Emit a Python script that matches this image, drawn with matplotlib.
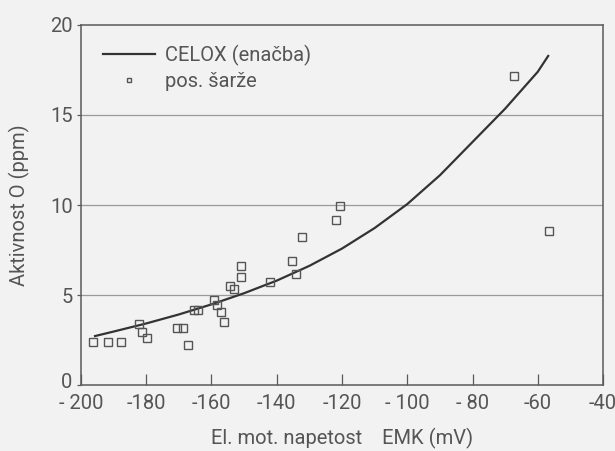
import matplotlib
matplotlib.use("Agg")
import matplotlib.pyplot as plt
import matplotlib.transforms as mtransforms

# ── Podatki (odčitani s slike) ───────────────────────────────────────────────
# CELOX krivulja (enačba) - točke odčitane s slike
celox_emk = [-195.7, -190, -180, -170, -160, -150, -140, -130, -120,
             -110, -100, -90, -80, -70, -60, -56.8]
celox_o   = [2.72, 2.97, 3.42, 3.92, 4.48, 5.10, 5.80, 6.62, 7.58,
             8.72, 10.05, 11.65, 13.5, 15.35, 17.4, 18.28]

# posamezne šarže
sarze_emk = [-196.4, -191.6, -187.7, -182.1, -181.4, -179.9, -170.7, -168.8,
             -167.1, -165.4, -164.0, -159.1, -158.4, -157.1, -156.2, -154.3,
             -153.1, -151.0, -151.0, -142.1, -135.2, -134.1, -132.2, -121.8,
             -120.6, -67.2, -56.5]
sarze_o   = [2.41, 2.41, 2.41, 3.37, 2.96, 2.63, 3.18, 3.18,
             2.22, 4.17, 4.17, 4.72, 4.44, 4.07, 3.52, 5.50,
             5.32, 6.02, 6.61, 5.71, 6.91, 6.17, 8.24, 9.17,
             9.94, 17.17, 8.56]

x_ticks  = [-200, -180, -160, -140, -120, -100, -80, -60, -40]
x_labels = ["- 200", "-180", "-160", "-140", "-120", "- 100", "- 80", "-60", "-40"]
y_ticks  = [0, 5, 10, 15, 20]

BG  = "#f2f2f2"
INK = "#555555"
FS  = 14.5

plt.rcParams["font.family"] = ["Roboto", "DejaVu Sans"]

fig = plt.figure(figsize=(6.15, 4.51), dpi=100, facecolor=BG)
ax = fig.add_axes([0.1317, 0.1463, 0.8488, 0.7983], facecolor=BG)

for yv in y_ticks[1:-1]:
    ax.axhline(yv, color="#9a9a9a", lw=0.9, zorder=1)

ax.plot(celox_emk, celox_o, color="#333333", lw=1.6, label="CELOX (enačba)", zorder=3)
ax.plot(sarze_emk, sarze_o, ls="none", marker="s", ms=6, mfc="none",
        mec="#555555", mew=1.0, label="pos. šarže", zorder=4)

ax.set_xlim(-200, -40)
ax.set_ylim(0, 20)
ax.set_xticks(x_ticks)
ax.set_xticklabels(x_labels)
ax.set_yticks(y_ticks)

for s in ax.spines.values():
    s.set_color("#5a5a5a")
    s.set_linewidth(1.1)

ax.tick_params(axis="x", direction="in", length=8, width=0.9, color="#5a5a5a",
               labelsize=FS, labelcolor=INK, pad=6.5)
ax.tick_params(axis="y", direction="out", length=3, width=0.9, color="#5a5a5a",
               labelsize=FS, labelcolor=INK, pad=3)

# oznaka "0" malo višje, da se ne prekriva z "- 200"
lbl0 = ax.get_yticklabels()[0]
lbl0.set_transform(lbl0.get_transform() +
                   mtransforms.ScaledTranslation(0, 3 / 72, fig.dpi_scale_trans))

ax.set_xlabel("El. mot. napetost    EMK (mV)", fontsize=FS, color=INK, labelpad=11)
ax.set_ylabel("Aktivnost O (ppm)", fontsize=FS, color=INK, labelpad=14)

leg = ax.legend(loc="upper left", frameon=False, fontsize=FS, handlelength=2.6,
                handletextpad=0.5, labelspacing=0.3, borderaxespad=0.3,
                bbox_to_anchor=(0.015, 0.985), markerscale=0.6)
for t in leg.get_texts():
    t.set_color(INK)

plt.savefig("out.png", dpi=100, facecolor=BG)
